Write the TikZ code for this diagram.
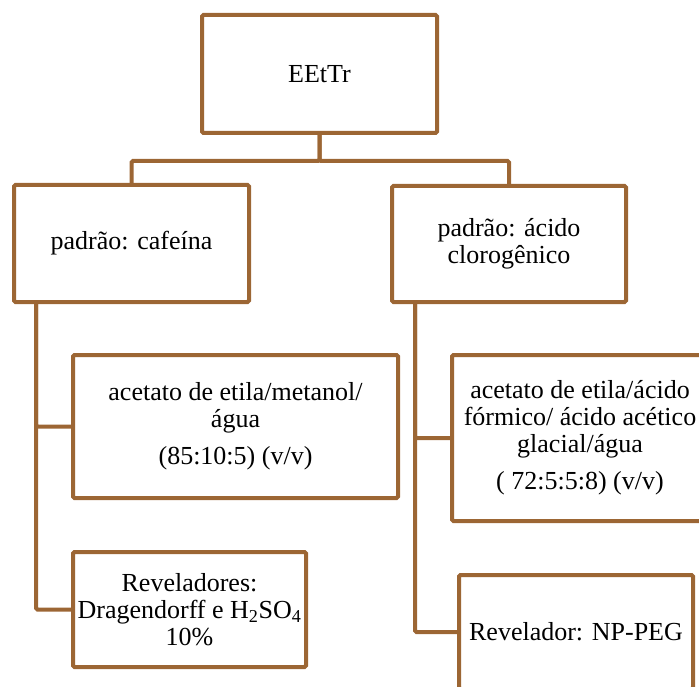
\documentclass[tikz,border=0pt]{standalone}
\usepackage{fontspec}
\setmainfont{Liberation Serif}
\definecolor{brn}{RGB}{156,102,52}
\begin{document}
\begin{tikzpicture}[x=1pt,y=-1pt,
  box/.style={draw=brn, line width=4pt, rounded corners=1.5pt, align=center,
    inner sep=0pt, fill=white, font=\fontsize{26}{27}\selectfont},
  conn/.style={draw=brn, line width=4pt, rounded corners=1.5pt}]
\useasboundingbox (0,0) rectangle (699,687);
\clip (0,0) rectangle (699,687);
\node[box, minimum width=235pt, minimum height=118pt] (root) at (319.5,74) {EEtTr};
\node[box, minimum width=235pt, minimum height=117pt] (left) at (131.5,243.5) {padrão: cafeína};
\node[box, minimum width=234pt, minimum height=116pt] (right) at (509,244) {padrão: ácido\\clorogênico};
\node[box, minimum width=325pt, minimum height=143pt] (A) at (235.5,426.5) {acetato de etila/metanol/\\água\\[10pt](85:10:5) (v/v)};
\node[box, minimum width=233pt, minimum height=115pt] (B) at (189.5,609.5) {Reveladores:\\Dragendorff e H\textsubscript{2}SO\textsubscript{4}\\10\%};
\node[box, minimum width=256pt, minimum height=166pt] (C) at (580,438) {acetato de etila/ácido\\fórmico/ ácido acético\\glacial/água\\[10pt]( 72:5:5:8) (v/v)};
\node[box, minimum width=234pt, minimum height=114pt] (D) at (576,632) {Revelador: NP-PEG};
\coordinate (bus) at ([yshift=-26pt]root.south);
\coordinate (lt) at ([xshift=24pt]left.south west);
\coordinate (rt) at ([xshift=25pt]right.south west);
\draw[conn] (root.south) -- (bus) -| (left.north);
\draw[conn] (root.south) -- (bus) -| (right.north);
\draw[conn] (lt) |- (A.west);
\draw[conn] (lt) |- (B.west);
\draw[conn] (rt) |- (C.west);
\draw[conn] (rt) |- (D.west);
\end{tikzpicture}
\end{document}
